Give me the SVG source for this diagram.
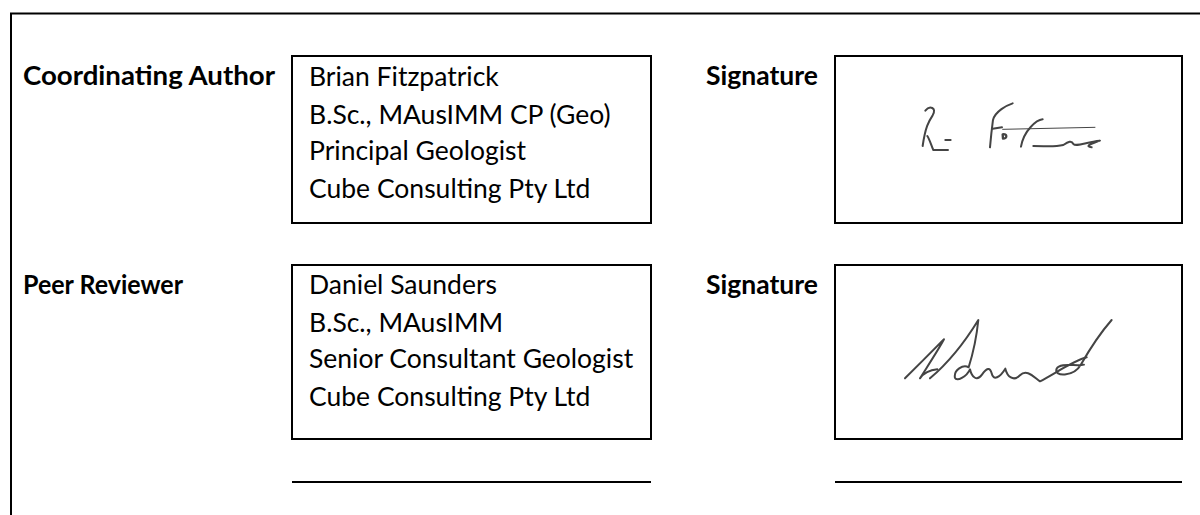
<svg xmlns="http://www.w3.org/2000/svg" width="1200" height="515" viewBox="0 0 1200 515">
<style>
  .frame{fill:none;stroke:#000;stroke-width:2}
  .box{fill:#fff;stroke:#000;stroke-width:2}
  .line{stroke:#000;stroke-width:2}
  .lbl{font-family:Lato,"Liberation Sans",sans-serif;font-size:26.5px;font-weight:bold;fill:#000}
  .txt{font-family:Lato,"Liberation Sans",sans-serif;font-size:26.5px;fill:#000}
  .sig{fill:none;stroke:#444;stroke-linecap:round;stroke-linejoin:round}
</style>
<rect width="1200" height="515" fill="#fff"/>
<path class="frame" d="M11 515 V13.5 H1200"/>

<g id="author-label"><text class="lbl" x="23" y="85" textLength="252" lengthAdjust="spacingAndGlyphs">Coordinating Author</text></g>
<g id="author-box">
  <rect class="box" x="292" y="56" width="359" height="167"/>
  <text class="txt" x="309" y="86">Brian Fitzpatrick</text>
  <text class="txt" x="309" y="124">B.Sc., MAusIMM CP (Geo)</text>
  <text class="txt" x="309" y="160">Principal Geologist</text>
  <text class="txt" x="309" y="198">Cube Consulting Pty Ltd</text>
</g>
<g id="author-sig-label"><text class="lbl" x="706" y="85">Signature</text></g>
<g id="author-sig">
  <rect class="box" x="835" y="56" width="347" height="167"/>
  <g transform="translate(820,40) scale(0.3333)">
    <path class="sig" stroke-width="6" d="M316 212 C328 196 352 202 338 226 C326 244 316 262 308 318"/>
    <path class="sig" stroke-width="6" d="M322 288 C330 300 334 318 340 330 L384 330"/>
    <path class="sig" stroke-width="6" d="M376 300 L392 300"/>
    <path class="sig" stroke-width="6" d="M578 190 C560 196 526 214 519 240 C515 270 512 300 510 322"/>
    <path class="sig" stroke-width="6" d="M518 266 L546 262"/>
    <path class="sig" stroke-width="7" d="M548 283 C562 280 563 296 549 296 Z"/>
    <path class="sig" stroke-width="6" d="M668 238 C650 240 612 270 603 320"/>
    <path class="sig" stroke-width="3" stroke="#8a8a8a" d="M548 268 L825 262"/>
    <path class="sig" stroke-width="6" d="M640 318 C680 318 700 322 730 315 C745 305 755 300 760 312 C770 322 800 305 840 302 C820 310 790 318 815 322"/>
  </g>
</g>

<g id="reviewer-label"><text class="lbl" x="23" y="294" textLength="160" lengthAdjust="spacingAndGlyphs">Peer Reviewer</text></g>
<g id="reviewer-box">
  <rect class="box" x="292" y="265" width="359" height="174"/>
  <text class="txt" x="309" y="294">Daniel Saunders</text>
  <text class="txt" x="309" y="332">B.Sc., MAusIMM</text>
  <text class="txt" x="309" y="368">Senior Consultant Geologist</text>
  <text class="txt" x="309" y="406">Cube Consulting Pty Ltd</text>
</g>
<g id="reviewer-sig-label"><text class="lbl" x="706" y="294">Signature</text></g>
<g id="reviewer-sig">
  <rect class="box" x="835" y="265" width="347" height="174"/>
  <g transform="translate(820,250) scale(0.3333)">
    <path class="sig" stroke-width="6" d="M255 385 C290 350 340 300 372 268 C355 300 322 350 300 385 C312 368 332 360 352 358"/>
    <path class="sig" stroke-width="6" d="M330 385 C362 358 420 300 475 210 C470 260 456 320 446 352 C430 342 400 360 405 384 C410 396 440 380 450 358 C455 380 470 396 486 374 C500 354 510 350 515 370 C520 394 540 382 556 356 C562 380 580 396 600 376 C620 356 640 380 660 394 C700 374 760 332 800 322"/>
    <path class="sig" stroke-width="6" d="M875 210 C840 250 802 310 782 345 C762 380 700 382 710 356 C720 336 770 350 792 344"/>
  </g>
</g>

<g id="signoff-lines">
  <line class="line" x1="292" y1="482" x2="651" y2="482"/>
  <line class="line" x1="835" y1="482" x2="1182" y2="482"/>
</g>
</svg>
